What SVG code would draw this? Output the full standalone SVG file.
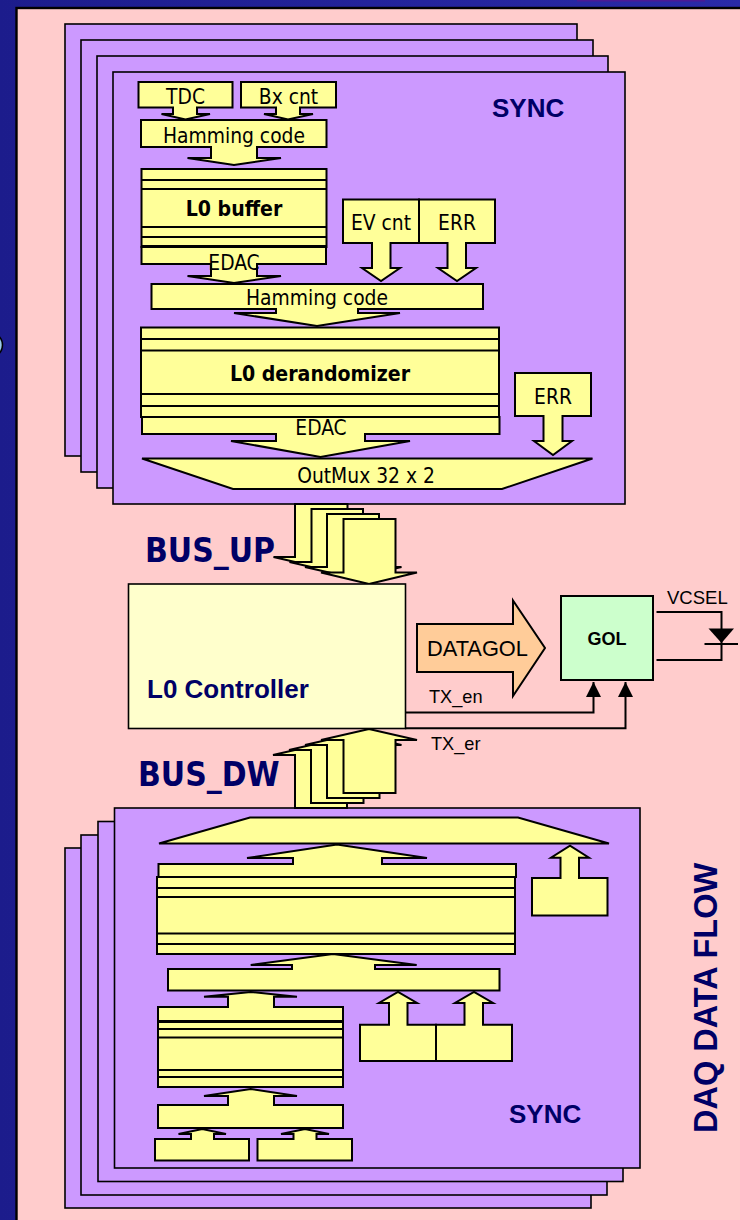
<svg xmlns="http://www.w3.org/2000/svg" width="740" height="1220" viewBox="0 0 740 1220">
<defs>
<linearGradient id="bg" x1="0" y1="0" x2="1" y2="0"><stop offset="0" stop-color="#1c1c8c"/><stop offset="1" stop-color="#2a2aa8"/></linearGradient>
<radialGradient id="dot"><stop offset="0.5" stop-color="#e8f6ff"/><stop offset="1" stop-color="#7fb8e0"/></radialGradient>
<marker id="tri" markerUnits="userSpaceOnUse" markerWidth="16" markerHeight="15" refX="15" refY="7.5" orient="auto"><path d="M0 0L15 7.5L0 15Z" fill="#000"/></marker>
</defs>
<style>
.p{fill:#cc99ff;stroke:#000;stroke-width:1.6}
.y{fill:#ffff99;stroke:#000;stroke-width:2;stroke-linejoin:miter}
.l{fill:none;stroke:#000;stroke-width:2}
.t{font-family:"DejaVu Sans Condensed","DejaVu Sans",sans-serif;font-stretch:condensed;font-size:20.8px;fill:#000;text-anchor:middle}
.tb{font-family:"DejaVu Sans Condensed","DejaVu Sans",sans-serif;font-stretch:condensed;font-size:21.1px;font-weight:700;fill:#000;text-anchor:middle}
.a{font-family:"Liberation Sans",Arial,sans-serif;fill:#000}
.n{font-family:"Liberation Sans",Arial,sans-serif;font-weight:700;fill:#000066}
.bus{font-family:"DejaVu Sans Condensed","DejaVu Sans",sans-serif;font-stretch:condensed;font-weight:700;font-size:33.3px;fill:#000066}
</style>
<rect id="background" width="740" height="1220" fill="url(#bg)"/>
<rect x="577" y="0" width="128" height="1.5" fill="#4b1a94"/>
<ellipse cx="-10" cy="345" rx="12.5" ry="12.5" fill="url(#dot)" stroke="#000" stroke-width="1.5"/>
<rect id="panel" x="16.5" y="8" width="730" height="1220" fill="#ffcccc" stroke="#000" stroke-width="2.4"/>

<g id="sync-top-stack">
<rect class="p" x="65" y="24" width="512" height="432"/>
<rect class="p" x="81" y="40" width="512" height="432"/>
<rect class="p" x="97" y="56" width="511" height="432"/>
<rect class="p" x="113" y="72" width="512" height="432"/>
<text class="n" x="492" y="116.5" font-size="26">SYNC</text>
</g>
<g id="sync-bottom-stack">
<rect class="p" x="65" y="848" width="526" height="360"/>
<rect class="p" x="81" y="835" width="526" height="360"/>
<rect class="p" x="98" y="821.5" width="525" height="360"/>
<rect class="p" x="114.5" y="808" width="525.5" height="360"/>
<text class="n" x="509" y="1123" font-size="26">SYNC</text>
</g>

<g id="connectors">
<g id="bus-up">
<path class="y" d="M295 504H347.5V557H369L321 568L273.5 557H295Z"/>
<path class="y" d="M311.5 509H363V562H385L337 573L289.5 562H311.5Z"/>
<path class="y" d="M327 514H379V567H401.5L353 578L305 567H327Z"/>
<path class="y" d="M343.5 519H395.5V572.5H417L369 584L321 572.5H343.5Z"/>
</g>
<g id="bus-dw">
<path class="y" d="M295 808H347V755H369L321 744L273 755H295Z"/>
<path class="y" d="M311 803H363.5V750H385L337 739L289 750H311Z"/>
<path class="y" d="M327 798H379.5V745H401.5L353 734L305 745H327Z"/>
<path class="y" d="M343.5 793H395.5V740H417L369 729L321 740H343.5Z"/>
</g>
<path id="tx-en" class="l" d="M405 712.5H593.5V682" marker-end="url(#tri)"/>
<path id="tx-er" class="l" d="M405 728.3H625.5V682" marker-end="url(#tri)"/>
<path id="vcsel-a" class="l" d="M656.5 612H721.5V660H656.5"/>
<path d="M708.5 628.5H734L721.5 643Z" fill="#000"/>
<path class="l" d="M704.5 644H738"/>
</g>

<g id="tdc"><path class="y" d="M138.5 82H232.5V107.5H197V114H210L185.5 119.5L161.5 114H173V107.5H138.5Z"/><text class="t" x="185.5" y="104">TDC</text></g>
<g id="bxcnt"><path class="y" d="M241 82H336V107.5H300V114H313L288 119.5L264 114H276V107.5H241Z"/><text class="t" x="288.5" y="104">Bx cnt</text></g>
<g id="hamming-1"><path class="y" d="M141 120H326.5V147H257V158H281L234 165L187.5 158H211V147H141Z"/><text class="t" x="234" y="142.5">Hamming code</text></g>
<g id="edac-1"><path class="y" d="M141.5 247H326V264H257V276H281L234 283L187.5 276H211V264H141.5Z"/><text class="t" x="234" y="270">EDAC</text></g>
<g id="l0-buffer">
<rect class="y" x="141.5" y="169" width="185" height="78"/>
<path class="l" d="M141.5 180H327M141.5 189H327M141.5 227H327M141.5 237H327"/>
<path d="M141.5 246.5H327" stroke="#000" stroke-width="3"/>
<text class="tb" x="234" y="216">L0 buffer</text></g>
<g id="evcnt"><path class="y" d="M343 199.5H419V243H390.5V268H400L381 281L362 268H372V243H343Z"/><text class="t" x="381" y="230">EV cnt</text></g>
<g id="err-1"><path class="y" d="M419 199.5H495V243H466V268H476L457 281L438 268H447.5V243H419Z"/><text class="t" x="457" y="230">ERR</text></g>
<g id="hamming-2"><path class="y" d="M151.5 284H483V309H358V313H400L317 326L234 313H276V309H151.5Z"/><text class="t" x="317" y="305">Hamming code</text></g>
<g id="l0-derandomizer">
<rect class="y" x="141" y="327.5" width="358" height="89.5"/>
<path class="l" d="M141 339H499M141 350.5H499M141 394H499M141 406H499"/>
<text class="tb" x="320" y="381">L0 derandomizer</text></g>
<g id="edac-2"><path class="y" d="M142 417H499.5V434H365V441H410L320.5 457L231 441H276V434H142Z"/><text class="t" x="321" y="435">EDAC</text></g>
<g id="err-2"><path class="y" d="M515 373H591V416H562.5V441H572L553 455L534 441H543.5V416H515Z"/><text class="t" x="553" y="403.5">ERR</text></g>
<g id="outmux"><path class="y" d="M142 458.5H592.5L502 489H233Z"/><text class="t" x="366" y="483">OutMux 32 x 2</text></g>

<g id="l0-controller"><rect x="128.5" y="584" width="277" height="144.5" fill="#ffffcc" stroke="#000" stroke-width="1.6"/><text class="n" x="147" y="698" font-size="26">L0 Controller</text></g>
<g id="datagol"><path d="M417 624H513V600.5L545 648L513 696V672H417Z" fill="#ffcc99" stroke="#000" stroke-width="2"/><text class="a" x="427" y="656" font-size="21.8">DATAGOL</text></g>
<g id="gol"><rect x="561" y="596" width="92" height="84" fill="#ccffcc" stroke="#000" stroke-width="2"/><text class="a" x="607" y="645" font-size="18" font-weight="700" text-anchor="middle">GOL</text></g>
<text class="a" x="667" y="604" font-size="18.5">VCSEL</text>
<text class="a" x="429" y="703" font-size="18.2">TX_en</text>
<text class="a" x="431" y="750" font-size="18.2">TX_er</text>
<text class="bus" x="145" y="562">BUS_UP</text>
<text class="bus" x="138" y="786">BUS_DW</text>
<text class="n" transform="translate(716.5 1133) rotate(-90)" font-size="32.5">DAQ DATA FLOW</text>

<g id="outmux-b"><path class="y" d="M250 817.5H518L609 843.5H159Z"/></g>
<g id="derand-b">
<rect class="y" x="157" y="877" width="358" height="77"/>
<path class="y" d="M158.5 877V864H293V858H247L337 844.5L427 858H382V864H516V877Z"/>
<path class="l" d="M157 888H515M157 897H515M157 933.5H515M157 944H515"/>
</g>
<g id="err-b1"><path class="y" d="M532 915.5V878H560.5V857.7H551L570 845.7L589 857.7H579V878H607.5V915.5Z"/></g>
<g id="hamming-b2"><path class="y" d="M168 969H292V965H250.7L333 954L416.7 965H375V969H499.5V990.5H168Z"/></g>
<g id="buffer-b">
<rect class="y" x="158" y="1021" width="185" height="66"/>
<path class="y" d="M158 1021V1007H228V996.7H204L250.7 992L297 996.7H274V1007H343V1021Z"/>
<path d="M158 1021.5H343" stroke="#000" stroke-width="3"/>
<path class="l" d="M158 1029H343M158 1037.5H343M158 1070H343M158 1077H343"/>
</g>
<g id="hamming-b1"><path class="y" d="M158 1105H228V1096H204L250.7 1089L297 1096H274V1105H343V1128H158Z"/></g>
<g id="tdc-b"><path class="y" d="M155 1139H191V1134H178.5L202.3 1129L226 1134H214V1139H249V1160.5H155Z"/></g>
<g id="bx-b"><path class="y" d="M257.5 1139H293.5V1134H281L305 1129L329 1134H316.5V1139H352V1160.5H257.5Z"/></g>
<g id="ev-b"><path class="y" d="M360 1061V1024.7H389V1003H379L398 992L417 1003H407.5V1024.7H436V1061Z"/></g>
<g id="err-b2"><path class="y" d="M436 1061V1024.7H464.5V1003H455L474 992L493 1003H483V1024.7H512V1061Z"/></g>
</svg>
